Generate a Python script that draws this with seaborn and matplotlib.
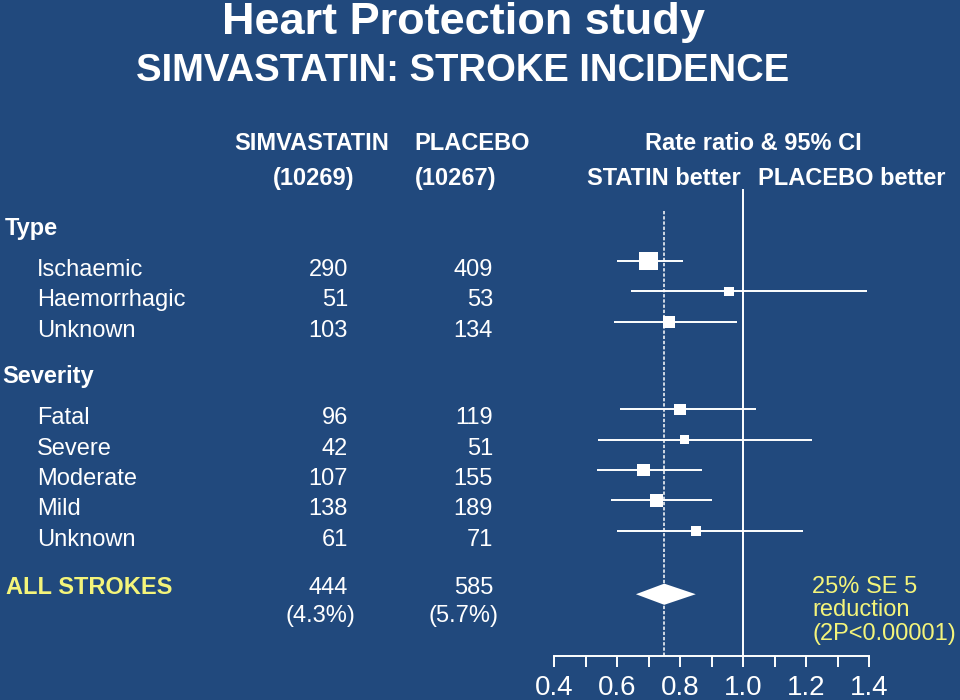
import numpy as np
import pandas as pd
import matplotlib
matplotlib.use("Agg")
import matplotlib.pyplot as plt
import matplotlib.transforms as mtransforms
import seaborn as sns

# ---------------- data ----------------
title = "Heart Protection study"
subtitle = "SIMVASTATIN: STROKE INCIDENCE"
sections = ["Type", "Severity"]
subgroups = ["Ischaemic", "Haemorrhagic", "Unknown",
             "Fatal", "Severe", "Moderate", "Mild", "Unknown"]
subgroup_section = ["Type", "Type", "Type",
                    "Severity", "Severity", "Severity", "Severity", "Severity"]
simva_events = [290, 51, 103, 96, 42, 107, 138, 61]
placebo_events = [409, 53, 134, 119, 51, 155, 189, 71]
rate_ratio = [0.70, 0.955, 0.765, 0.80, 0.815, 0.685, 0.725, 0.85]
ci_low = [0.60, 0.645, 0.59, 0.61, 0.54, 0.535, 0.58, 0.60]
ci_high = [0.81, 1.395, 0.98, 1.04, 1.22, 0.87, 0.90, 1.19]
n_simva = 10269
n_placebo = 10267
total_label = "ALL STROKES"
total_simva = 444
total_placebo = 585
total_simva_pct = "(4.3%)"
total_placebo_pct = "(5.7%)"
total_rr = 0.75
total_lo = 0.66
total_hi = 0.85
result_lines = ["25% SE 5", "reduction", "(2P<0.00001)"]
x_major = [0.4, 0.6, 0.8, 1.0, 1.2, 1.4]
x_major_labels = ["0.4", "0.6", "0.8", "1.0", "1.2", "1.4"]
x_minor = [0.5, 0.7, 0.9, 1.1, 1.3]

# ---------------- style / layout ----------------
BG = "#21497d"
FG = "#ffffff"
YEL = "#f4f47a"
W, H = 960, 700
sns.set_theme(style="white")
plt.rcParams["font.family"] = ["Liberation Sans", "DejaVu Sans"]

row_pos = [0, 1, 2, 4.9, 5.9, 6.9, 7.9, 8.9]
total_pos = 11.0

fig = plt.figure(figsize=(9.6, 7.0), dpi=100, facecolor=BG)


def P(x, y):
    return x / W, 1 - y / H


ax = fig.add_axes([522.5 / W, 44 / H, 378 / W, 467 / H])
ax.set_facecolor("none")
ax.set_xlim(0.3, 1.5)
ax.set_ylim(13.04, -2.38)

df = pd.DataFrame({
    "group": subgroups,
    "row": row_pos,
    "rr": rate_ratio,
    "lo": ci_low,
    "hi": ci_high,
    "events": np.array(simva_events) + np.array(placebo_events),
})
# box side grows with the amount of information (events)
side_px = 3.9 + 0.536 * np.sqrt(df["events"].to_numpy())
areas = (side_px * 72 / 100) ** 2

# reference lines
ax.axvline(1.0, ymin=0, ymax=1, color=FG, lw=1.4, zorder=1)
ax.vlines(total_rr, -1.65, 13.04, color=FG, lw=1.1,
          linestyles=(0, (2.2, 1.2)), zorder=1)

# CIs
ax.hlines(df["row"], df["lo"], df["hi"], color=FG, lw=1.4, zorder=2)
sns.scatterplot(data=df, x="rr", y="row", marker="s", s=areas,
                color=FG, linewidth=0, ax=ax, zorder=3, legend=False)

# overall diamond
hh = 0.35
ax.fill([total_lo, total_rr, total_hi, total_rr],
        [total_pos, total_pos - hh, total_pos, total_pos + hh],
        color=FG, lw=0, zorder=3)

# axis styling
sns.despine(ax=ax, left=True, top=True, right=True)
ax.spines["bottom"].set_color(FG)
ax.spines["bottom"].set_linewidth(1.4)
ax.spines["bottom"].set_bounds(0.4, 1.4)
ax.set_yticks([])
ax.set_xticks(x_major)
ax.set_xticklabels(x_major_labels)
ax.set_xticks(x_minor, minor=True)
ax.tick_params(axis="x", which="both", direction="out", length=8,
               width=1.4, color=FG, labelcolor=FG, labelsize=20, pad=6,
               bottom=True)
ax.set_xlabel("")
ax.set_ylabel("")

# ---------------- text ----------------
fs = 17
fig.text(*P(463, 34), title, color=FG, fontsize=32.5, fontweight="bold",
         ha="center", va="baseline")
fig.text(*P(463, 81), subtitle, color=FG, fontsize=27.5, fontweight="bold",
         ha="center", va="baseline")

fig.text(*P(312, 150), "SIMVASTATIN", color=FG, fontsize=fs,
         fontweight="bold", ha="center", va="baseline")
fig.text(*P(472, 150), "PLACEBO", color=FG, fontsize=fs,
         fontweight="bold", ha="center", va="baseline")
fig.text(*P(314, 185), f"({n_simva})", color=FG, fontsize=fs,
         fontweight="bold", ha="center", va="baseline")
fig.text(*P(456, 185), f"({n_placebo})", color=FG, fontsize=fs,
         fontweight="bold", ha="center", va="baseline")
fig.text(*P(753, 150), "Rate ratio & 95% CI", color=FG, fontsize=fs,
         fontweight="bold", ha="center", va="baseline")
fig.text(*P(741, 185), "STATIN better", color=FG, fontsize=fs,
         fontweight="bold", ha="right", va="baseline")
fig.text(*P(758, 185), "PLACEBO better", color=FG, fontsize=fs,
         fontweight="bold", ha="left", va="baseline")

blend = mtransforms.blended_transform_factory(fig.transFigure, ax.transData)
row_tr = mtransforms.offset_copy(blend, fig=fig, y=-15, units="dots")
head_tr = mtransforms.offset_copy(blend, fig=fig, y=26, units="dots")
pct_tr = mtransforms.offset_copy(blend, fig=fig, y=-28, units="dots")

# section headers at the first row of each section
head_x = {"Type": 5, "Severity": 2}
for sec in sections:
    first = subgroup_section.index(sec)
    fig.text(head_x[sec] / W, row_pos[first], sec, transform=head_tr,
             color=FG, fontsize=fs, fontweight="bold", va="baseline")

for i, name in enumerate(subgroups):
    y = row_pos[i]
    fig.text(37 / W, y, name, transform=row_tr, color=FG, fontsize=fs,
             ha="left", va="baseline")
    fig.text(348 / W, y, str(simva_events[i]), transform=row_tr, color=FG,
             fontsize=fs, ha="right", va="baseline")
    fig.text(493 / W, y, str(placebo_events[i]), transform=row_tr, color=FG,
             fontsize=fs, ha="right", va="baseline")

fig.text(6 / W, total_pos, total_label, transform=blend, color=YEL,
         fontsize=fs, fontweight="bold", ha="left", va="baseline")
fig.text(348 / W, total_pos, str(total_simva), transform=blend, color=FG,
         fontsize=fs, ha="right", va="baseline")
fig.text(493 / W, total_pos, str(total_placebo), transform=blend, color=FG,
         fontsize=fs, ha="right", va="baseline")
fig.text(320 / W, total_pos, total_simva_pct, transform=pct_tr, color=FG,
         fontsize=fs, ha="center", va="baseline")
fig.text(464 / W, total_pos, total_placebo_pct, transform=pct_tr, color=FG,
         fontsize=fs, ha="center", va="baseline")

for k, line in enumerate(result_lines):
    fig.text(*P(812, [593, 616, 640][k]), line, color=YEL, fontsize=fs,
             ha="left", va="baseline")

fig.savefig("out.png", dpi=100, facecolor=BG)
